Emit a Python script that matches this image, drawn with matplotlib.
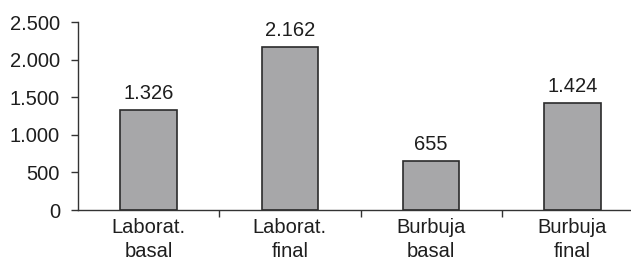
import matplotlib
matplotlib.use("Agg")
import matplotlib.pyplot as plt
from matplotlib.ticker import FuncFormatter

categories = ["Laborat.\nbasal", "Laborat.\nfinal", "Burbuja\nbasal", "Burbuja\nfinal"]
values = [1326, 2162, 655, 1424]
yticks = [0, 500, 1000, 1500, 2000, 2500]


def fmt(v):
    return "{:,.0f}".format(v).replace(",", ".")


plt.rcParams['font.family'] = ['Liberation Sans', 'DejaVu Sans']
plt.rcParams['font.size'] = 14.5

fig = plt.figure(figsize=(6.31, 2.66), dpi=100)
ax = fig.add_axes([78 / 631, 56 / 266, 553 / 631, 188 / 266])

x = list(range(len(categories)))
bars = ax.bar(x, values, width=0.4, color="#a7a7a9", edgecolor="#2b2b2b", linewidth=1.2)

for xi, v in zip(x, values):
    ax.annotate(fmt(v), (xi, v), xytext=(0, 5), textcoords="offset points",
                ha="center", va="bottom", color="#1e1e1e")

ax.set_xlim(-0.5, 3.5 - 12 / 141)
ax.set_ylim(0, 2500)
ax.set_yticks(yticks)
ax.yaxis.set_major_formatter(FuncFormatter(lambda v, p: fmt(v)))

# category separators as major ticks, names as minor tick labels
ax.set_xticks([0.5, 1.5, 2.5])
ax.set_xticklabels([])
ax.set_xticks(x, minor=True)
ax.set_xticklabels(categories, minor=True, linespacing=1.3)
ax.tick_params(axis="x", which="minor", length=0, pad=6, colors="#1e1e1e")
ax.tick_params(axis="x", which="major", length=5, width=1, color="#333333")
ax.tick_params(axis="y", length=5, width=1, pad=8, color="#333333", labelcolor="#1e1e1e")

for s in ["top", "right"]:
    ax.spines[s].set_visible(False)
for s in ["left", "bottom"]:
    ax.spines[s].set_color("#333333")
    ax.spines[s].set_linewidth(1)

fig.savefig("out.png", dpi=100)
